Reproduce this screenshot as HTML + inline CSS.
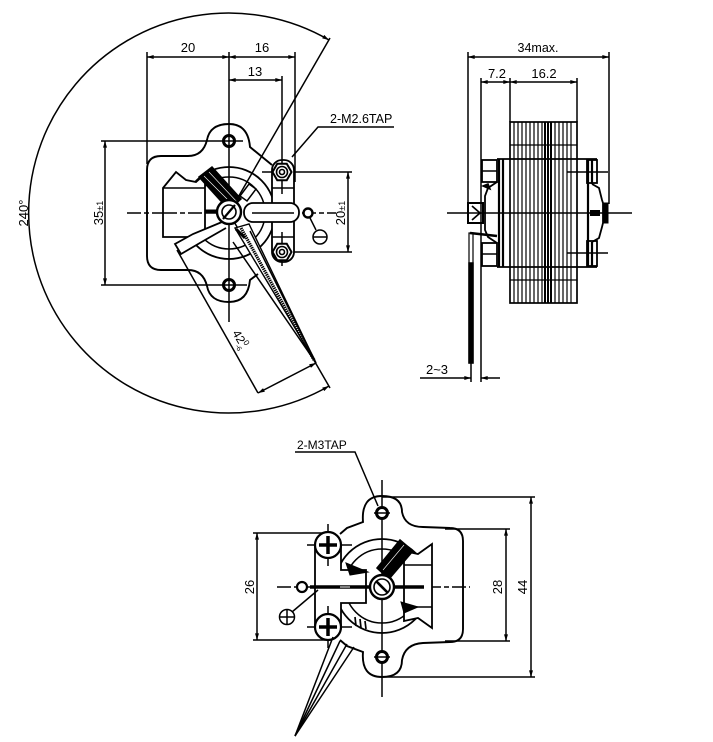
<!DOCTYPE html>
<html><head><meta charset="utf-8"><style>
html,body{margin:0;padding:0;background:#fff;}
svg{display:block;}
text{font-family:"Liberation Sans",Arial,sans-serif;fill:#000;stroke:none;}
</style></head><body>
<svg width="713" height="742" viewBox="0 0 713 742" xmlns="http://www.w3.org/2000/svg">
<defs>
<marker id="a" viewBox="0 0 10 6" refX="10" refY="3" markerWidth="8" markerHeight="4" markerUnits="userSpaceOnUse" orient="auto-start-reverse"><path d="M0,0 L10,3 L0,6 z" fill="#000"/></marker>
</defs>
<rect width="713" height="742" fill="#fff"/>
<g fill="none" stroke="#000" stroke-width="1.5">

<!-- ============ TOP-LEFT VIEW ============ -->
<path d="M329,40 A200,200 0 1 0 329,386" marker-start="url(#a)" marker-end="url(#a)"/>
<line x1="229" y1="213" x2="330" y2="38"/>
<line x1="229" y1="213" x2="330" y2="388"/>

<!-- dims -->
<line x1="147" y1="57" x2="229" y2="57" marker-start="url(#a)" marker-end="url(#a)"/>
<line x1="229" y1="57" x2="295" y2="57" marker-start="url(#a)" marker-end="url(#a)"/>
<line x1="229" y1="80" x2="282" y2="80" marker-start="url(#a)" marker-end="url(#a)"/>
<line x1="147" y1="52" x2="147" y2="164"/>
<line x1="295" y1="52" x2="295" y2="182"/>
<line x1="282" y1="76" x2="282" y2="194"/>
<line x1="229" y1="52" x2="229" y2="322"/>
<line x1="105" y1="141" x2="105" y2="285" marker-start="url(#a)" marker-end="url(#a)"/>
<line x1="101" y1="141" x2="243" y2="141"/>
<line x1="101" y1="285" x2="247" y2="285"/>
<line x1="348" y1="172" x2="348" y2="252" marker-start="url(#a)" marker-end="url(#a)"/>
<line x1="262" y1="172" x2="352" y2="172"/>
<line x1="292" y1="252" x2="352" y2="252"/>
<line x1="127" y1="213" x2="336" y2="213" stroke-dasharray="14 3 5 3"/>
<polyline points="394,127 318,127 292,157"/>

<!-- ring -->
<circle cx="229" cy="213" r="46" stroke-width="1.8"/>
<circle cx="229" cy="213" r="36"/>

<!-- body outline -->
<path d="M272,165 L250,147 Q248,124 229,124 Q210,124 207,140 Q203,156 188,156 L161,156 Q147,156 147,170 L147,256 Q147,270 161,270 L188,270 Q203,270 207,286 Q210,302 229,302 Q248,302 250,280 L258,274" stroke-width="1.9"/>

<!-- holes -->
<circle cx="229" cy="141" r="5.5" stroke-width="3" fill="#fff"/>
<circle cx="229" cy="285" r="5.5" stroke-width="3" fill="#fff"/>
<line x1="222" y1="141" x2="236" y2="141"/><line x1="229" y1="134" x2="229" y2="148"/>
<line x1="222" y1="285" x2="236" y2="285"/><line x1="229" y1="278" x2="229" y2="292"/>

<!-- left block -->
<polygon points="163,188 176,172 186,180 196,182 205,174 205,237 163,237" fill="#fff" stroke-width="1.8"/>
<line x1="163" y1="188" x2="205" y2="188"/>
<line x1="163" y1="213" x2="205" y2="213" stroke-dasharray="14 3 5 3"/>
<polyline points="222,222 193,234 175,244 181,254 205,240 226,228" fill="#fff" stroke-width="1.8"/>
<line x1="177" y1="250" x2="258" y2="393"/>
<!-- coil -->
<polygon points="199,177 212,167 241,199 229,210" fill="#000"/>
<line x1="204" y1="176" x2="233" y2="205" stroke="#fff" stroke-width="0.6"/>
<line x1="209" y1="172" x2="237" y2="202" stroke="#fff" stroke-width="0.6"/>
<line x1="205" y1="211" x2="218" y2="211" stroke-width="3"/>
<polygon points="240,196 249,184 256,189 247,201" fill="#fff" stroke-width="1.5"/>

<!-- bracket + nuts -->
<rect x="272" y="160" width="22" height="102" rx="10" fill="#fff" stroke-width="1.8"/>
<line x1="272" y1="188" x2="294" y2="188"/>
<line x1="272" y1="237" x2="294" y2="237"/>
<line x1="282" y1="160" x2="282" y2="194"/>
<line x1="282" y1="232" x2="282" y2="266"/>
<polygon points="291.5,172 286.75,163.8 277.25,163.8 272.5,172 277.25,180.2 286.75,180.2" fill="#fff" stroke-width="2"/>
<circle cx="282" cy="172" r="5.5" stroke-width="1.6"/><circle cx="282" cy="172" r="2.5" stroke-width="1.6"/>
<polygon points="291.5,252 286.75,243.8 277.25,243.8 272.5,252 277.25,260.2 286.75,260.2" fill="#fff" stroke-width="2"/>
<circle cx="282" cy="252" r="5.5" stroke-width="1.6"/><circle cx="282" cy="252" r="2.5" stroke-width="1.6"/>

<!-- slot terminal -->
<rect x="244" y="203" width="55" height="19" rx="9" fill="#fff" stroke-width="1.8"/>
<line x1="252" y1="213" x2="294" y2="213"/>
<circle cx="308" cy="213" r="4.5" stroke-width="2.4" fill="#fff"/>
<line x1="310" y1="218" x2="316" y2="230"/>
<circle cx="320" cy="237" r="7" stroke-width="1.5" fill="#fff"/>
<line x1="313" y1="237" x2="327" y2="237"/>

<!-- shaft -->
<circle cx="229" cy="212" r="12" fill="#fff" stroke-width="2.4"/>
<circle cx="229" cy="212" r="7" stroke-width="1.6"/>
<line x1="223" y1="219" x2="235" y2="205" stroke-width="2.2"/>

<!-- wire -->
<polygon points="235,228 249,224 316,363" fill="#fff" stroke-width="1.4"/>
<line x1="233" y1="242" x2="316" y2="363"/>
<line x1="250" y1="231" x2="316" y2="363"/>
<line x1="241" y1="228" x2="314" y2="360" stroke-width="3.2" stroke-dasharray="1.4 0.8"/>
<line x1="236" y1="229" x2="245" y2="238" stroke-width="3"/>

<line x1="258" y1="393" x2="316" y2="363" marker-start="url(#a)" marker-end="url(#a)"/>

<!-- ============ RIGHT VIEW ============ -->
<line x1="468" y1="57" x2="609" y2="57" marker-start="url(#a)" marker-end="url(#a)"/>
<line x1="468" y1="52" x2="468" y2="203"/>
<line x1="609" y1="52" x2="609" y2="204"/>
<line x1="481" y1="82" x2="510" y2="82" marker-start="url(#a)" marker-end="url(#a)"/>
<line x1="510" y1="82" x2="577" y2="82" marker-start="url(#a)" marker-end="url(#a)"/>
<line x1="481" y1="78" x2="481" y2="160"/>
<line x1="510" y1="78" x2="510" y2="122"/>
<line x1="577" y1="78" x2="577" y2="122"/>

<rect x="510" y="122" width="67" height="181" stroke-width="1.7"/>
<g stroke-width="1.2">
<line x1="514" y1="122" x2="514" y2="303"/><line x1="518" y1="122" x2="518" y2="303"/>
<line x1="522" y1="122" x2="522" y2="303"/><line x1="526" y1="122" x2="526" y2="303"/>
<line x1="530" y1="122" x2="530" y2="303"/><line x1="534" y1="122" x2="534" y2="303"/>
<line x1="538" y1="122" x2="538" y2="303"/><line x1="542" y1="122" x2="542" y2="303"/>
<line x1="545" y1="122" x2="545" y2="303" stroke-width="2"/><line x1="548" y1="122" x2="548" y2="303" stroke-width="2"/>
<line x1="551" y1="122" x2="551" y2="303" stroke-width="2"/><line x1="555" y1="122" x2="555" y2="303"/>
<line x1="559" y1="122" x2="559" y2="303"/><line x1="563" y1="122" x2="563" y2="303"/>
<line x1="567" y1="122" x2="567" y2="303"/><line x1="571" y1="122" x2="571" y2="303"/>
<line x1="510" y1="145" x2="577" y2="145"/><line x1="510" y1="280" x2="577" y2="280"/>
</g>
<line x1="497" y1="159" x2="597" y2="159" stroke-width="1.8"/>
<line x1="497" y1="267" x2="597" y2="267" stroke-width="1.8"/>
<line x1="499" y1="159" x2="499" y2="267" stroke-width="2.2"/>
<line x1="503" y1="159" x2="503" y2="267" stroke-width="2.2"/>
<line x1="588" y1="159" x2="588" y2="267" stroke-width="2.2"/>
<line x1="592" y1="159" x2="592" y2="184" stroke-width="2.2"/>
<line x1="592" y1="242" x2="592" y2="267" stroke-width="2.2"/>
<rect x="482" y="160" width="15" height="22" stroke-width="1.8"/>
<line x1="482" y1="171" x2="497" y2="171"/>
<rect x="482" y="243" width="15" height="23" stroke-width="1.8"/>
<line x1="482" y1="254" x2="497" y2="254"/>
<polyline points="497,182 488,188 485,196 485,230 488,237 497,243" stroke-width="1.8"/>
<path d="M483,186 L488,184 L490,189 Z" fill="#000"/>
<rect x="468" y="203" width="15" height="20" stroke-width="2" fill="#fff"/>
<polyline points="472,206 480,213 472,220" stroke-width="1.7"/>
<rect x="587" y="160" width="10" height="23" stroke-width="1.8"/>
<rect x="587" y="241" width="10" height="25" stroke-width="1.8"/>
<polyline points="592,184 599,188 602,200 603,203 603,223 602,227 599,238 592,242" stroke-width="1.8"/>
<rect x="603" y="203" width="5" height="20" fill="#000" stroke-width="1"/>
<rect x="590" y="210" width="10" height="6" fill="#000" stroke="none"/>
<line x1="567" y1="172" x2="608" y2="172"/>
<line x1="567" y1="253" x2="608" y2="253"/>
<line x1="447" y1="213" x2="632" y2="213" stroke-width="1.5"/>
<line x1="470" y1="233" x2="497" y2="236" stroke-width="2.6"/>
<rect x="469" y="233" width="4" height="130" stroke-width="1.2"/>
<rect x="469" y="263" width="4" height="100" fill="#000"/>
<line x1="481" y1="160" x2="481" y2="382"/>
<line x1="471" y1="363" x2="471" y2="382"/>
<line x1="420" y1="378" x2="471" y2="378" marker-end="url(#a)"/>
<line x1="481" y1="378" x2="500" y2="378" marker-start="url(#a)"/>

<!-- ============ BOTTOM VIEW ============ -->
<polyline points="295,452 355,452 378,506"/>
<line x1="382" y1="480" x2="382" y2="697"/>
<line x1="277" y1="587" x2="470" y2="587" stroke-dasharray="14 3 5 3"/>
<line x1="531" y1="497" x2="531" y2="677" marker-start="url(#a)" marker-end="url(#a)"/>
<line x1="382" y1="497" x2="535" y2="497"/>
<line x1="382" y1="677" x2="535" y2="677"/>
<line x1="506" y1="529" x2="506" y2="641" marker-start="url(#a)" marker-end="url(#a)"/>
<line x1="445" y1="529" x2="510" y2="529"/>
<line x1="445" y1="641" x2="510" y2="641"/>
<line x1="257" y1="533" x2="257" y2="640" marker-start="url(#a)" marker-end="url(#a)"/>
<line x1="253" y1="533" x2="325" y2="533"/>
<line x1="253" y1="640" x2="325" y2="640"/>

<circle cx="382" cy="586" r="47" stroke-width="1.8"/>
<circle cx="382" cy="586" r="37"/>
<path d="M340,534 L347,528 L363,522 Q361,496 382,496 Q402,496 402,512 Q405,527 423,527 L450,528 Q463,528 463,541 L463,629 Q463,642 450,642 L423,643 Q405,644 402,660 Q402,677 382,677 Q361,677 363,652 L347,646 L340,640" stroke-width="1.9"/>
<circle cx="382" cy="513" r="5.5" stroke-width="3" fill="#fff"/>
<circle cx="382" cy="657" r="5.5" stroke-width="3" fill="#fff"/>
<line x1="374" y1="513" x2="390" y2="513"/>
<line x1="374" y1="657" x2="390" y2="657"/>

<polygon points="315,545 341,545 341,570 366,570 366,603 341,603 341,627 315,627" fill="#fff" stroke-width="1.8"/>
<polygon points="404,565 404,551 418,554 432,544 432,628 418,618 404,621 404,607" fill="#fff" stroke-width="1.8"/>
<line x1="404" y1="565" x2="432" y2="565"/>
<line x1="404" y1="607" x2="432" y2="607"/>
<polygon points="346,563 368,572 350,575" fill="#000" stroke-width="1"/>
<polygon points="401,602 418,607 404,613" fill="#000" stroke-width="1"/>
<line x1="355" y1="617" x2="356" y2="626" stroke-width="1.7"/>
<line x1="360" y1="619" x2="361" y2="628" stroke-width="1.7"/>
<line x1="365" y1="621" x2="366" y2="629" stroke-width="1.7"/>
<polygon points="377,568 400,540 413,551 389,579" fill="#000"/>
<line x1="383" y1="570" x2="404" y2="545" stroke="#fff" stroke-width="0.6"/>

<line x1="307" y1="545" x2="352" y2="545"/><line x1="328" y1="524" x2="328" y2="566"/>
<line x1="307" y1="627" x2="352" y2="627"/><line x1="328" y1="606" x2="328" y2="648"/>
<circle cx="328" cy="545" r="13" fill="#fff" stroke-width="2.2"/>
<circle cx="328" cy="627" r="13" fill="#fff" stroke-width="2.2"/>
<line x1="319" y1="545" x2="337" y2="545" stroke-width="3.5"/><line x1="328" y1="536" x2="328" y2="554" stroke-width="3.5"/>
<line x1="319" y1="627" x2="337" y2="627" stroke-width="3.5"/><line x1="328" y1="618" x2="328" y2="636" stroke-width="3.5"/>

<line x1="310" y1="587" x2="424" y2="587" stroke-width="3.5"/>
<line x1="340" y1="587" x2="350" y2="587" stroke="#fff" stroke-width="1"/>
<circle cx="302" cy="587" r="5" fill="#fff" stroke-width="2.2"/>
<line x1="292" y1="612" x2="318" y2="590"/>
<circle cx="287" cy="617" r="7.5" fill="#fff" stroke-width="1.5"/>
<line x1="279.5" y1="617" x2="294.5" y2="617"/>
<line x1="287" y1="609.5" x2="287" y2="624.5"/>

<circle cx="382" cy="587" r="12" fill="#fff" stroke-width="2.4"/>
<circle cx="382" cy="587" r="8" stroke-width="1.6"/>
<line x1="376" y1="581" x2="388" y2="593" stroke-width="2.6"/>

<line x1="333" y1="637" x2="295" y2="736"/>
<line x1="340" y1="641" x2="295" y2="736"/>
<line x1="347" y1="644" x2="295" y2="736"/>
<line x1="354" y1="647" x2="295" y2="736"/>
</g>

<!-- TEXT -->
<g font-size="13">
<text x="188" y="52" text-anchor="middle">20</text>
<text x="262" y="52" text-anchor="middle">16</text>
<text x="255" y="76" text-anchor="middle">13</text>
<text x="330" y="123" font-size="12.5">2-M2.6TAP</text>
<text transform="translate(28,213) rotate(-90)" text-anchor="middle">240°</text>
<text transform="translate(103,213) rotate(-90)" text-anchor="middle">35<tspan font-size="9">±1</tspan></text>
<text transform="translate(345,213) rotate(-90)" text-anchor="middle">20<tspan font-size="9">±1</tspan></text>
<text transform="translate(232,333) rotate(60)" font-size="12">42<tspan font-size="8" dy="-5">0</tspan><tspan font-size="7" dx="-5" dy="9">-6</tspan></text>
<text x="538" y="52" text-anchor="middle" font-size="12.5">34max.</text>
<text x="497" y="78" text-anchor="middle">7.2</text>
<text x="544" y="78" text-anchor="middle">16.2</text>
<text x="437" y="374" text-anchor="middle">2~3</text>
<text x="297" y="449" font-size="12">2-M3TAP</text>
<text transform="translate(527,587) rotate(-90)" text-anchor="middle">44</text>
<text transform="translate(502,587) rotate(-90)" text-anchor="middle">28</text>
<text transform="translate(254,587) rotate(-90)" text-anchor="middle">26</text>
</g>
</svg>
</body></html>
